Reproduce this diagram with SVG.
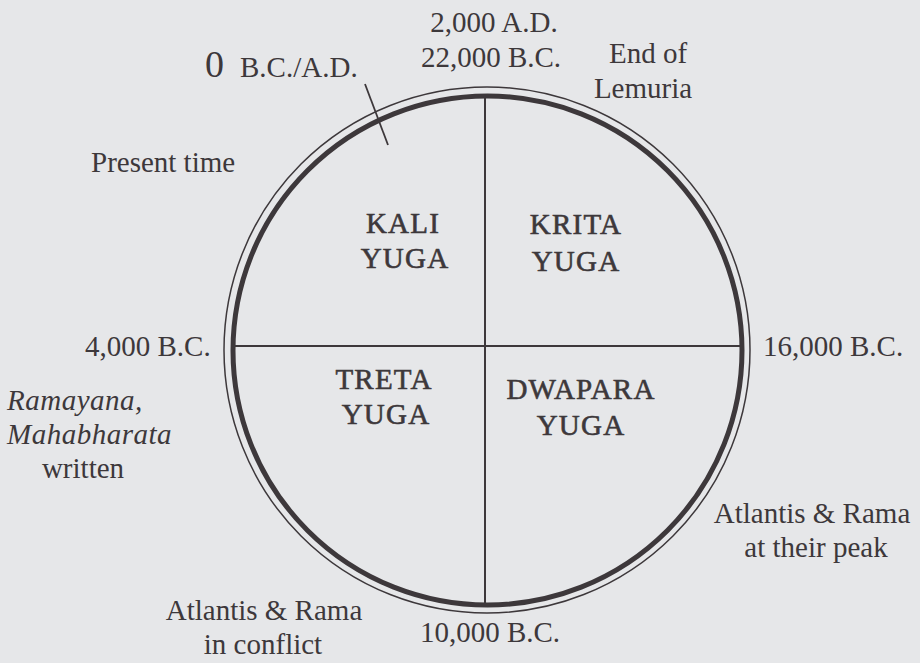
<svg xmlns="http://www.w3.org/2000/svg" width="920" height="663" viewBox="0 0 920 663">
<style>
text{font-family:"Liberation Serif","Times New Roman",serif;font-size:29px;fill:#3d383b}
.m{text-anchor:middle}
.y{text-anchor:middle;letter-spacing:1.2px;stroke:#3d383b;stroke-width:0.6px}
.i{font-style:italic;letter-spacing:0.5px}
.ln{stroke:#3d383b;fill:none}
</style>
<rect width="920" height="663" fill="#e6e7e9"/>
<g id="wheel">
<circle class="ln" cx="487" cy="350" r="263" stroke-width="1.5"/>
<circle class="ln" cx="487.5" cy="350.5" r="254.5" stroke-width="5"/>
</g>
<g id="connectors">
<line class="ln" x1="485" y1="96" x2="485" y2="606" stroke-width="2"/>
<line class="ln" x1="232" y1="346" x2="743" y2="346" stroke-width="2"/>
<line class="ln" x1="365" y1="84" x2="388" y2="145" stroke-width="1.8"/>
</g>
<g id="kali"><text class="y" x="403" y="233">KALI</text><text class="y" x="405" y="268">YUGA</text></g>
<g id="krita"><text class="y" x="576" y="234">KRITA</text><text class="y" x="576" y="271">YUGA</text></g>
<g id="treta"><text class="y" x="384" y="389">TRETA</text><text class="y" x="386" y="424">YUGA</text></g>
<g id="dwapara"><text class="y" x="581" y="399">DWAPARA</text><text class="y" x="581" y="435">YUGA</text></g>
<g id="top-label"><text class="m" x="494" y="32">2,000 A.D.</text><text class="m" x="491" y="67">22,000 B.C.</text></g>
<g id="zero-label"><text x="205" y="77" style="font-size:38px">0</text><text x="240" y="77">B.C./A.D.</text></g>
<g id="lemuria"><text class="m" x="648" y="63">End of</text><text class="m" x="643" y="98">Lemuria</text></g>
<g id="present"><text x="91" y="172">Present time</text></g>
<g id="left-label"><text x="85" y="356">4,000 B.C.</text></g>
<g id="right-label"><text x="763" y="356">16,000 B.C.</text></g>
<g id="epics"><text class="i" x="7" y="410">Ramayana,</text><text class="i" x="7" y="444">Mahabharata</text><text class="m" x="83" y="478">written</text></g>
<g id="peak"><text class="m" x="812" y="523">Atlantis &amp; Rama</text><text class="m" x="816" y="557">at their peak</text></g>
<g id="bottom-label"><text class="m" x="490" y="642">10,000 B.C.</text></g>
<g id="conflict"><text class="m" x="264" y="620">Atlantis &amp; Rama</text><text class="m" x="263" y="654">in conflict</text></g>
</svg>
